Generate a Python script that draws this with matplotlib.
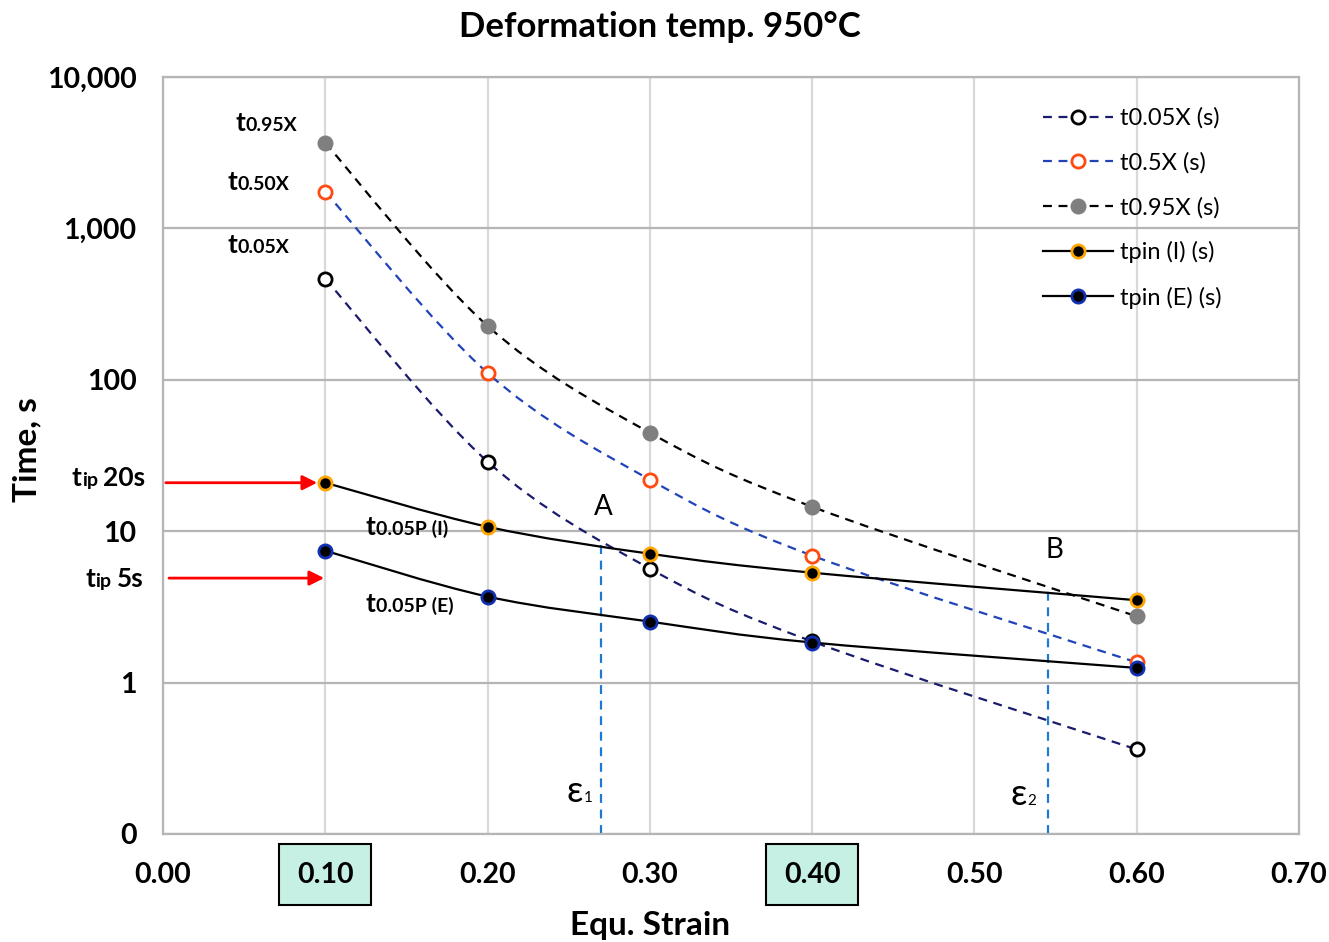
import numpy as np
import matplotlib.pyplot as plt
from matplotlib.path import Path
from matplotlib.patches import PathPatch
from matplotlib.lines import Line2D

plt.rcParams['font.family'] = ['Lato', 'DejaVu Sans']

# data
strain = [0.10, 0.20, 0.30, 0.40, 0.60]
t005x = [464, 28.8, 5.66, 1.87, 0.362]
t05x = [1742, 111, 21.9, 6.9, 1.36]
t095x = [3670, 227, 44.7, 14.5, 2.74]
tpin_i = [20.9, 10.7, 7.1, 5.32, 3.50]
tpin_e = [7.43, 3.7, 2.53, 1.84, 1.25]

xticks = [0.0, 0.1, 0.2, 0.3, 0.4, 0.5, 0.6, 0.7]
xlabels = ['0.00', '0.10', '0.20', '0.30', '0.40', '0.50', '0.60', '0.70']
yticks = [0.1, 1, 10, 100, 1000, 10000]
ylabels = ['0', '1', '10', '100', '1,000', '10,000']

# strain limits eps1 / eps2 and the tip arrows
eps_x = [0.2697, 0.5451]
eps_top = [8.9, 4.3]
tip_vals = [20.9, 4.9]

W, H = 1329, 942
fig = plt.figure(figsize=(W / 100, H / 100), dpi=100)
ax = fig.add_axes([163 / W, 1 - 834 / H, 1136 / W, 757 / H])
ax.set_yscale('log')
ax.set_xlim(0, 0.7)
ax.set_ylim(0.1, 10000)


def smooth(ax, x, y, **kw):
    # excel-like smoothed line: catmull-rom -> cubic bezier in (x, log y)
    p = np.column_stack([x, np.log10(y)])
    n = len(p)
    verts = [p[0]]
    codes = [Path.MOVETO]
    for i in range(n - 1):
        p0 = p[max(i - 1, 0)]
        p1, p2 = p[i], p[i + 1]
        p3 = p[min(i + 2, n - 1)]
        verts += [p1 + (p2 - p0) / 6, p2 - (p3 - p1) / 6, p2]
        codes += [Path.CURVE4] * 3
    v = np.array(verts)
    v[:, 1] = 10 ** v[:, 1]
    ax.add_patch(PathPatch(Path(v, codes), fill=False, zorder=3, **kw))


series = [
    (t005x, 't0.05X (s)', '#1b1b6e', (0, (4, 3)), 'white', 'black'),
    (t05x, 't0.5X (s)', '#2143b8', (0, (4, 3)), 'white', '#ff4a10'),
    (t095x, 't0.95X (s)', 'black', (0, (4, 3)), '#7f7f7f', '#7f7f7f'),
    (tpin_i, 'tpin (I) (s)', 'black', '-', 'black', '#ffa500'),
    (tpin_e, 'tpin (E) (s)', 'black', '-', 'black', '#1030b0'),
]

handles = []
for vals, lab, lc, ls, mfc, mec in series:
    smooth(ax, strain, vals, edgecolor=lc, linestyle=ls, linewidth=1.6)
    ax.plot(strain, vals, ls='none', marker='o', ms=9.5, mew=2, mfc=mfc, mec=mec, zorder=4)
    handles.append(Line2D([], [], color=lc, ls=ls, lw=1.6, marker='o', ms=9.5, mew=2,
                          mfc=mfc, mec=mec, label=lab))

ax.legend(handles=handles, loc='upper left', bbox_to_anchor=(0.7746, 0.960),
          frameon=False, fontsize=17, handlelength=2.97, handletextpad=0.3,
          labelspacing=0.98, borderpad=0, borderaxespad=0, numpoints=1)

# grid and frame
ax.set_xticks(xticks, xlabels)
ax.set_yticks(yticks, ylabels)
ax.minorticks_off()
ax.yaxis.grid(True, color='#b5b5b5', lw=1.6)
ax.xaxis.grid(True, color='#d9d9d9', lw=1.6)
ax.set_axisbelow(True)
for s in ax.spines.values():
    s.set_color('#b5b5b5')
    s.set_linewidth(1.6)
ax.tick_params(length=0, labelsize=20.5)
ax.tick_params(axis='x', pad=20)
ax.tick_params(axis='y', pad=19)
for t in ax.get_xticklabels() + ax.get_yticklabels():
    t.set_fontweight('bold')
for i in (1, 4):
    ax.get_xticklabels()[i].set_bbox(dict(boxstyle='square,pad=0.62', fc='#c6f0e4',
                                          ec='black', lw=1.5))

# red arrows at tip 20s / tip 5s
ax.annotate('', xy=(0.0967, tip_vals[0]), xytext=(0.0, tip_vals[0]),
            arrowprops=dict(arrowstyle='-|>', color='red', lw=2, mutation_scale=22))
ax.annotate('', xy=(0.1010, tip_vals[1]), xytext=(0.002, tip_vals[1]),
            arrowprops=dict(arrowstyle='-|>', color='red', lw=2, mutation_scale=22))

# eps1 / eps2 dashed verticals
for xe, top in zip(eps_x, eps_top):
    ax.plot([xe, xe], [0.1, top], color='#1f78d2', lw=1.6, ls=(0, (4, 3)), zorder=2)


def px(x, y):
    return x / W, 1 - y / H


def ftext(x, y, s, size, bold=True, **kw):
    fig.text(*px(x, y), s, fontsize=size, fontweight='bold' if bold else 'normal',
             ha='left', va='baseline', **kw)


# t + subscript labels
for xt, xs, yb, sub in [(235, 245, 131, '0.95X'), (228, 238, 190, '0.50X'),
                        (228, 238, 253, '0.05X'), (365, 376, 535, '0.05P (I)'),
                        (365, 376, 612, '0.05P (E)')]:
    ftext(xt, yb, 't', 19)
    ftext(xs, yb, sub, 14)
ftext(72, 486, 't', 19)
ftext(82, 486, 'ip', 14)
ftext(103, 486, '20s', 19)
ftext(85, 587, 't', 19)
ftext(95, 587, 'ip', 14)
ftext(117, 587, '5s', 19)

ftext(594, 515, 'A', 20, bold=False)
ftext(1045, 558, 'B', 20, bold=False)
ftext(567, 802, 'ε', 26, bold=False)
ftext(584, 802, '1', 11, bold=False)
ftext(1010, 805, 'ε', 26, bold=False)
ftext(1027, 805, '2', 11, bold=False)

fig.text(*px(660, 27), 'Deformation temp. 950°C', fontsize=25, fontweight='bold',
         ha='center', va='center')
fig.text(*px(650, 926), 'Equ. Strain', fontsize=24, fontweight='bold',
         ha='center', va='center')
fig.text(*px(27, 450), 'Time, s', fontsize=24, fontweight='bold',
         ha='center', va='center', rotation=90)

fig.savefig('out.png', dpi=100, facecolor='white')
